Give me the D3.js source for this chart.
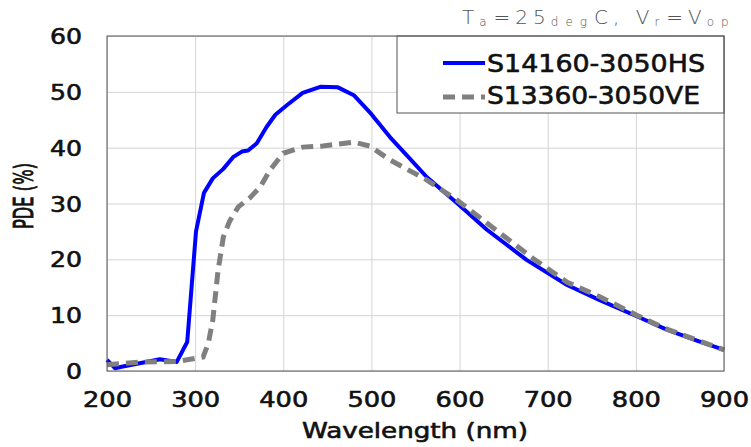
<!DOCTYPE html>
<html>
<head>
<meta charset="utf-8">
<script src="https://cdn.jsdelivr.net/npm/d3@7"></script>
<style>
  body { margin: 0; background: #fff; }
  svg { display: block; font-family: "DejaVu Sans", Verdana, sans-serif; }
  .lbl { fill: #111; stroke: #111; stroke-width: 0.6px; }
</style>
</head>
<body>
<svg width="751" height="447"></svg>
<script>
// PDE vs wavelength
var hsWave = [200,209,218,237,260,279,291,301,310,320,332,343,353,360,370,381,391,404,422,442,462,480,500,521,542,563,597,631,676,722,759,801,835,870,900];
var hsPde  = [2.0,0.5,0.8,1.4,2.1,1.6,5.2,25,31.9,34.5,36.2,38.3,39.3,39.5,40.8,43.7,45.9,47.6,49.8,50.9,50.8,49.4,46,41.9,38.3,34.7,30.1,25.3,19.9,15.4,12.7,9.8,7.4,5.4,3.8];

var veWave = [200,215,237,279,309,315,320,326,332,339,349,362,374,385,400,422,445,480,498,521,563,597,631,683,722,759,801,835,870,900];
var vePde  = [1.1,1.3,1.6,1.7,2.5,5,9.1,18,24,26.8,29.4,31,33,36,39,40.1,40.3,41,40.3,37.8,34.2,30.6,26.5,20.2,15.9,13.3,10,7.5,5.5,3.8];

var seriesNames = ['S14160-3050HS', 'S13360-3050VE'];
var xTicks = [200,300,400,500,600,700,800,900];
var yTicks = [0,10,20,30,40,50,60];

// plot box (window.top is read-only, so no "top" here)
var pL = 107, pR = 724, pT = 36, pB = 371;

var svg = d3.select('svg');

var x = d3.scaleLinear().domain([200, 900]).range([pL, pR]);
var y = d3.scaleLinear().domain([0, 60]).range([pB, pT]);

// grid
svg.append('g')
	.attr('transform', 'translate(0,' + pB + ')')
	.call(d3.axisBottom(x).tickValues(xTicks).tickSize(-(pB - pT)).tickFormat(''))
	.call(function(g) { g.select('.domain').remove(); })
	.selectAll('line').attr('stroke', '#d4d4d4');
svg.append('g')
	.attr('transform', 'translate(' + pL + ',0)')
	.call(d3.axisLeft(y).tickValues(yTicks).tickSize(-(pR - pL)).tickFormat(''))
	.call(function(g) { g.select('.domain').remove(); })
	.selectAll('line').attr('stroke', '#d4d4d4');

// tick labels
var xa = svg.append('g')
	.attr('transform', 'translate(0,' + pB + ')')
	.call(d3.axisBottom(x).tickValues(xTicks).tickSize(0).tickPadding(0));
xa.select('.domain').remove();
xa.selectAll('text')
	.attr('class', 'lbl')
	.attr('y', 36).attr('dy', null)
	.attr('font-size', 21)
	.attr('font-family', '"DejaVu Sans", sans-serif')
	.attr('textLength', 49).attr('lengthAdjust', 'spacingAndGlyphs');

var ya = svg.append('g')
	.attr('transform', 'translate(' + pL + ',0)')
	.call(d3.axisLeft(y).tickValues(yTicks).tickSize(0).tickPadding(25));
ya.select('.domain').remove();
ya.selectAll('text')
	.attr('class', 'lbl')
	.attr('dy', '0.36em')
	.attr('font-size', 21)
	.attr('font-family', '"DejaVu Sans", sans-serif')
	.attr('textLength', function(d) { return String(d).length * 16; })
	.attr('lengthAdjust', 'spacingAndGlyphs');

// axis titles
svg.append('text')
	.attr('class', 'lbl')
	.attr('x', 302).attr('y', 438)
	.attr('font-size', 21)
	.attr('textLength', 226).attr('lengthAdjust', 'spacingAndGlyphs')
	.text('Wavelength (nm)');

svg.append('text')
	.attr('class', 'lbl')
	.attr('transform', 'translate(33,196) scale(1.5,1) rotate(-90)')
	.attr('text-anchor', 'middle')
	.attr('font-size', 18)
	.attr('textLength', 66).attr('lengthAdjust', 'spacingAndGlyphs')
	.text('PDE (%)');

// curves
var line = d3.line()
	.x(function(d) { return x(d[0]); })
	.y(function(d) { return y(d[1]); });

svg.append('path')
	.datum(d3.zip(hsWave, hsPde))
	.attr('d', line)
	.attr('fill', 'none')
	.attr('stroke', '#0000ff')
	.attr('stroke-width', 4)
	.attr('stroke-linejoin', 'round');

svg.append('path')
	.datum(d3.zip(veWave, vePde))
	.attr('d', line)
	.attr('fill', 'none')
	.attr('stroke', '#808080')
	.attr('stroke-width', 5)
	.attr('stroke-dasharray', '12,7');

// legend
svg.append('rect')
	.attr('x', 397).attr('y', pT).attr('width', pR - 397).attr('height', 77)
	.attr('fill', '#fff').attr('stroke', '#555').attr('stroke-width', 1);

var legY = [63, 97];
var legBase = [72, 104];
var legLen = [218, 213];
var leg = svg.append('g');
seriesNames.forEach(function(name, i) {
	leg.append('line')
		.attr('x1', 443).attr('x2', 485).attr('y1', legY[i]).attr('y2', legY[i])
		.attr('stroke', i == 0 ? '#0000ff' : '#808080')
		.attr('stroke-width', i == 0 ? 4 : 5)
		.attr('stroke-dasharray', i == 0 ? null : '12,7');
	leg.append('text')
		.attr('class', 'lbl')
		.attr('x', 487).attr('y', legBase[i])
		.attr('font-size', 24)
		.attr('textLength', legLen[i]).attr('lengthAdjust', 'spacingAndGlyphs')
		.text(name);
});

// plot border
svg.append('rect')
	.attr('x', pL).attr('y', pT).attr('width', pR - pL).attr('height', pB - pT)
	.attr('fill', 'none').attr('stroke', '#555').attr('stroke-width', 1);

// conditions note
var note = svg.append('text')
	.attr('x', 462).attr('y', 24)
	.attr('font-size', 20).attr('font-weight', 300).attr('fill', '#555');
var parts = [['T', 0], ['a', 1], ['=25', 0], ['deg', 1], ['C, V', 0], ['r', 1], ['=V', 0], ['op', 1]];
var prev = 0;
parts.forEach(function(p) {
	var shift = p[1] ? 2 : 0;
	note.append('tspan')
		.attr('dy', shift - prev)
		.attr('font-size', p[1] ? 12 : 20)
		.attr('letter-spacing', p[1] ? 7 : 5)
		.text(p[0]);
	prev = shift;
});
</script>
</body>
</html>
